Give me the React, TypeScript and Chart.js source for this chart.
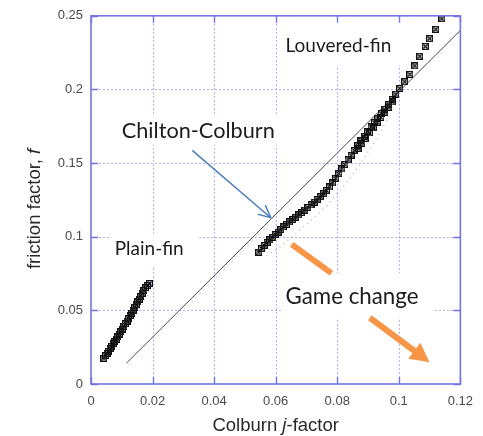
import React, { useEffect, useRef } from "react";
import { Chart, registerables } from "chart.js";

Chart.register(...registerables);

// ---------- data ----------
const X_TICKS = [0, 0.02, 0.04, 0.06, 0.08, 0.1, 0.12];
const Y_TICKS = [0, 0.05, 0.1, 0.15, 0.2, 0.25];

const PLAIN_J = [0.0042, 0.0047, 0.0052, 0.0057, 0.0062, 0.0067, 0.0072, 0.0077, 0.0082, 0.0087, 0.0092, 0.0097, 0.0102, 0.0107, 0.0112, 0.0117, 0.0122, 0.0127, 0.0132, 0.0137, 0.0142, 0.0147, 0.0152, 0.0157, 0.0162, 0.0167, 0.0172, 0.0177, 0.0183, 0.019];
const PLAIN_F = [0.0175, 0.0192, 0.0208, 0.0224, 0.024, 0.0256, 0.0272, 0.0288, 0.0305, 0.0322, 0.0339, 0.0356, 0.0373, 0.0391, 0.0409, 0.0427, 0.0445, 0.0463, 0.0482, 0.0501, 0.052, 0.0539, 0.0558, 0.0577, 0.0597, 0.0616, 0.0635, 0.0652, 0.0668, 0.0682];

const LOUV_J = [0.114, 0.112, 0.11, 0.1086, 0.1068, 0.1052, 0.1036, 0.1019, 0.1003, 0.099, 0.0978, 0.0966, 0.0954, 0.0943, 0.0932, 0.0921, 0.091, 0.0899, 0.0888, 0.0877, 0.0866, 0.0855, 0.0845, 0.0835, 0.0825, 0.0815, 0.0805, 0.0795, 0.0785, 0.0775, 0.0765, 0.0755, 0.0745, 0.0735, 0.0725, 0.0715, 0.0705, 0.0695, 0.0685, 0.0675, 0.0665, 0.0655, 0.0645, 0.0635, 0.0626, 0.0617, 0.0608, 0.0599, 0.059, 0.0581, 0.0572, 0.0563, 0.0554, 0.0545];
const LOUV_F = [0.248, 0.2408, 0.2345, 0.2292, 0.2225, 0.216, 0.2102, 0.2052, 0.2006, 0.1968, 0.1932, 0.1898, 0.1866, 0.1838, 0.1806, 0.1776, 0.1745, 0.1714, 0.1682, 0.165, 0.1618, 0.1585, 0.1552, 0.1522, 0.149, 0.146, 0.1428, 0.1396, 0.1365, 0.1338, 0.1314, 0.1292, 0.1272, 0.1252, 0.1234, 0.1216, 0.1198, 0.1181, 0.1164, 0.1148, 0.1132, 0.1116, 0.11, 0.1083, 0.1066, 0.1049, 0.1032, 0.1014, 0.0996, 0.0978, 0.096, 0.0941, 0.092, 0.0896];

const LOUV2_J = [0.0868, 0.088, 0.0892, 0.0905, 0.0917, 0.093, 0.0942, 0.0955, 0.0968, 0.098];
const LOUV2_F = [0.16, 0.1635, 0.1668, 0.1705, 0.174, 0.1776, 0.181, 0.1845, 0.188, 0.1915];

const PLAIN_FAINT_J = [0.0075, 0.0125, 0.0195];
const PLAIN_FAINT_F = [0.024, 0.04, 0.064];

const LOUV_FAINT_J = [0.057, 0.062, 0.067, 0.072, 0.077, 0.082, 0.087, 0.092, 0.097];
const LOUV_FAINT_F = [0.087, 0.094, 0.103, 0.112, 0.122, 0.134, 0.148, 0.164, 0.182];

const CHILTON_J = [0.0115, 0.12];
const CHILTON_F = [0.0141, 0.2401];

// ---------- annotations (data coordinates) ----------
const LABELS = [
  { text: "Louvered-fin", j: 0.0632, f: 0.2251, size: 19, boxJ: [0.061, 0.1013], boxF: [0.2164, 0.246] },
  { text: "Chilton-Colburn", j: 0.01, f: 0.1673, size: 21.7, boxJ: [0.0084, 0.0616], boxF: [0.1626, 0.1828] },
  { text: "Plain-fin", j: 0.0077, f: 0.0874, size: 19, boxJ: [0.0061, 0.0352], boxF: [0.08, 0.1022] },
  { text: "Game change", j: 0.0632, f: 0.0544, size: 22.3, boxJ: [0.0619, 0.1116], boxF: [0.045, 0.0753] },
];

const BLUE_ARROW = { j: [0.0329, 0.0584], f: [0.1586, 0.1129] };
const ORANGE_SEG1 = { j: [0.0652, 0.0781], f: [0.0948, 0.0753] };
const ORANGE_SEG2 = { j: [0.0906, 0.11], f: [0.045, 0.0148] };

const pts = (xs: number[], ys: number[]) => xs.map((x, i) => ({ x, y: ys[i] }));

const GRID_COLOR = "rgba(128,128,240,0.62)";
const FRAME_COLOR = "#7474e4";
const ANNOT_FONT = "Lato, 'Open Sans', sans-serif";

function drawArrow(
  ctx: CanvasRenderingContext2D,
  x1: number, y1: number, x2: number, y2: number,
  color: string, width: number, head: "none" | "open" | "filled",
  headLen = 12, headHalf = 6
) {
  const ang = Math.atan2(y2 - y1, x2 - x1);
  ctx.save();
  ctx.strokeStyle = color;
  ctx.fillStyle = color;
  ctx.lineWidth = width;
  ctx.lineCap = "butt";
  let ex = x2, ey = y2;
  if (head === "filled") {
    ex = x2 - Math.cos(ang) * headLen * 0.9;
    ey = y2 - Math.sin(ang) * headLen * 0.9;
  }
  ctx.beginPath();
  ctx.moveTo(x1, y1);
  ctx.lineTo(ex, ey);
  ctx.stroke();
  if (head === "open") {
    ctx.lineCap = "round";
    ctx.beginPath();
    ctx.moveTo(x2 - headLen * Math.cos(ang - 0.45), y2 - headLen * Math.sin(ang - 0.45));
    ctx.lineTo(x2, y2);
    ctx.lineTo(x2 - headLen * Math.cos(ang + 0.45), y2 - headLen * Math.sin(ang + 0.45));
    ctx.stroke();
  } else if (head === "filled") {
    const bx = x2 - Math.cos(ang) * headLen;
    const by = y2 - Math.sin(ang) * headLen;
    ctx.beginPath();
    ctx.moveTo(x2, y2);
    ctx.lineTo(bx + Math.sin(ang) * headHalf, by - Math.cos(ang) * headHalf);
    ctx.lineTo(bx - Math.sin(ang) * headHalf, by + Math.cos(ang) * headHalf);
    ctx.closePath();
    ctx.fill();
  }
  ctx.restore();
}

const decorPlugin = {
  id: "decor",
  beforeDatasetsDraw(chart: any) {
    const { ctx, chartArea: a, scales } = chart;
    const xs = scales.x, ys = scales.y;
    ctx.save();
    ctx.strokeStyle = GRID_COLOR;
    ctx.lineWidth = 1;
    ctx.setLineDash([2, 2]);
    X_TICKS.forEach((v) => {
      const px = Math.round(xs.getPixelForValue(v)) + 0.5;
      if (v === X_TICKS[0] || v === X_TICKS[X_TICKS.length - 1]) return;
      ctx.beginPath();
      ctx.moveTo(px, a.top);
      ctx.lineTo(px, a.bottom);
      ctx.stroke();
    });
    Y_TICKS.forEach((v) => {
      const py = Math.round(ys.getPixelForValue(v)) + 0.5;
      if (v === Y_TICKS[0] || v === Y_TICKS[Y_TICKS.length - 1]) return;
      ctx.beginPath();
      ctx.moveTo(a.left, py);
      ctx.lineTo(a.right, py);
      ctx.stroke();
    });
    ctx.setLineDash([]);
    // white text boxes
    ctx.fillStyle = "#ffffff";
    LABELS.forEach((l) => {
      const x0 = xs.getPixelForValue(l.boxJ[0]);
      const x1 = xs.getPixelForValue(l.boxJ[1]);
      const y0 = ys.getPixelForValue(l.boxF[1]);
      const y1 = ys.getPixelForValue(l.boxF[0]);
      ctx.fillRect(x0, y0, x1 - x0, y1 - y0);
    });
    ctx.restore();
  },
  afterDraw(chart: any) {
    const { ctx, chartArea: a, scales, height } = chart;
    const xs = scales.x, ys = scales.y;
    ctx.save();
    // frame
    ctx.strokeStyle = FRAME_COLOR;
    ctx.lineWidth = 1.6;
    ctx.strokeRect(a.left, a.top, a.right - a.left, a.bottom - a.top);
    // inner ticks
    ctx.lineWidth = 1.4;
    const tl = 7;
    X_TICKS.forEach((v) => {
      const px = Math.round(xs.getPixelForValue(v)) + 0.5;
      ctx.beginPath();
      ctx.moveTo(px, a.bottom); ctx.lineTo(px, a.bottom - tl);
      ctx.moveTo(px, a.top); ctx.lineTo(px, a.top + tl);
      ctx.stroke();
    });
    Y_TICKS.forEach((v) => {
      const py = Math.round(ys.getPixelForValue(v)) + 0.5;
      ctx.beginPath();
      ctx.moveTo(a.left, py); ctx.lineTo(a.left + tl, py);
      ctx.moveTo(a.right, py); ctx.lineTo(a.right - tl, py);
      ctx.stroke();
    });

    // annotation texts
    ctx.fillStyle = "#1c1c1c";
    ctx.textAlign = "left";
    ctx.textBaseline = "alphabetic";
    LABELS.forEach((l) => {
      ctx.font = `${l.size}px ${ANNOT_FONT}`;
      ctx.fillText(l.text, xs.getPixelForValue(l.j), ys.getPixelForValue(l.f));
    });

    // arrows
    const P = (o: { j: number[]; f: number[] }) => [
      xs.getPixelForValue(o.j[0]), ys.getPixelForValue(o.f[0]),
      xs.getPixelForValue(o.j[1]), ys.getPixelForValue(o.f[1]),
    ];
    const b = P(BLUE_ARROW);
    drawArrow(ctx, b[0], b[1], b[2], b[3], "#4a7ebb", 1.5, "open", 13);
    const o1 = P(ORANGE_SEG1);
    drawArrow(ctx, o1[0], o1[1], o1[2], o1[3], "#f79646", 6, "none");
    const o2 = P(ORANGE_SEG2);
    drawArrow(ctx, o2[0], o2[1], o2[2], o2[3], "#f79646", 6, "filled", 19, 10);

    // axis titles
    ctx.fillStyle = "#2a2a2a";
    const tf = "18.5px 'Liberation Sans', Arial, sans-serif";
    const tfi = "italic 18.5px 'Liberation Sans', Arial, sans-serif";
    const parts: [string, string][] = [["Colburn ", tf], ["j", tfi], ["-factor", tf]];
    let total = 0;
    parts.forEach(([t, f]) => { ctx.font = f; total += ctx.measureText(t).width; });
    let cx = (a.left + a.right) / 2 - total / 2;
    const by = height - 5;
    parts.forEach(([t, f]) => { ctx.font = f; ctx.fillText(t, cx, by); cx += ctx.measureText(t).width; });

    const yparts: [string, string][] = [["friction factor, ", tf], ["f", tfi]];
    let ytotal = 0;
    yparts.forEach(([t, f]) => { ctx.font = f; ytotal += ctx.measureText(t).width; });
    ctx.translate(40, (a.top + a.bottom) / 2 + 9);
    ctx.rotate(-Math.PI / 2);
    let cy = -ytotal / 2;
    yparts.forEach(([t, f]) => { ctx.font = f; ctx.fillText(t, cy, 0); cy += ctx.measureText(t).width; });
    ctx.restore();
  },
};

function makeMarker(): HTMLCanvasElement {
  const c = document.createElement("canvas");
  c.width = 7;
  c.height = 7;
  const g = c.getContext("2d")!;
  g.strokeStyle = "#111";
  g.lineWidth = 1.2;
  g.strokeRect(0.6, 0.6, 5.8, 5.8);
  g.beginPath();
  g.moveTo(1.5, 1.5); g.lineTo(5.5, 5.5);
  g.moveTo(5.5, 1.5); g.lineTo(1.5, 5.5);
  g.stroke();
  return c;
}

const fmt = (v: number) => (v === 0 ? "0" : String(v));

export default function App() {
  const ref = useRef<HTMLCanvasElement>(null);
  useEffect(() => {
    const canvas = ref.current!;
    const marker = makeMarker();
    const markerDs = (data: any) => ({
      type: "scatter" as const,
      data,
      pointStyle: marker,
      pointRadius: 3.5,
      showLine: false,
    });
    const chart = new Chart(canvas, {
      type: "scatter",
      data: {
        datasets: [
          markerDs(pts(LOUV_J, LOUV_F)),
          markerDs(pts(LOUV2_J, LOUV2_F)),
          markerDs(pts(PLAIN_J, PLAIN_F)),
          {
            type: "line",
            data: pts(CHILTON_J, CHILTON_F),
            borderColor: "#4a4a4a",
            borderWidth: 1,
            pointRadius: 0,
            fill: false,
          },
          {
            type: "line",
            data: pts(LOUV_FAINT_J, LOUV_FAINT_F),
            borderColor: "rgba(120,120,120,0.5)",
            borderWidth: 1.2,
            borderDash: [1.2, 4],
            pointRadius: 0,
            fill: false,
          },
          {
            type: "line",
            data: pts(PLAIN_FAINT_J, PLAIN_FAINT_F),
            borderColor: "rgba(120,120,120,0.4)",
            borderWidth: 1.2,
            borderDash: [1.2, 4],
            pointRadius: 0,
            fill: false,
          },
        ] as any,
      },
      options: {
        responsive: false,
        animation: false,
        layout: { padding: { left: 0, right: 20, top: 12, bottom: 0 } },
        plugins: { legend: { display: false }, tooltip: { enabled: false } },
        scales: {
          x: {
            type: "linear",
            min: 0,
            max: 0.12,
            afterBuildTicks: (s: any) => { s.ticks = X_TICKS.map((v) => ({ value: v })); },
            afterFit: (s: any) => { s.height = 52; },
            grid: { display: false, drawTicks: false },
            border: { display: false },
            ticks: {
              padding: 10,
              maxRotation: 0,
              color: "#4a4a4a",
              font: { family: "'Liberation Sans', Arial, sans-serif", size: 13 },
              callback: (v: any) => fmt(Number(v)),
            },
          },
          y: {
            type: "linear",
            min: 0,
            max: 0.25,
            afterBuildTicks: (s: any) => { s.ticks = Y_TICKS.map((v) => ({ value: v })); },
            afterFit: (s: any) => { s.width = 91; },
            grid: { display: false, drawTicks: false },
            border: { display: false },
            ticks: {
              padding: 8,
              color: "#4a4a4a",
              font: { family: "'Liberation Sans', Arial, sans-serif", size: 13 },
              callback: (v: any) => fmt(Number(v)),
            },
          },
        },
      },
      plugins: [decorPlugin],
    } as any);
    return () => chart.destroy();
  }, []);
  return (
    <div style={{ position: "absolute", left: 0, top: 0, width: 483, height: 436, background: "#fff" }}>
      <canvas ref={ref} width={483} height={436} style={{ display: "block", width: 483, height: 436 }} />
    </div>
  );
}
